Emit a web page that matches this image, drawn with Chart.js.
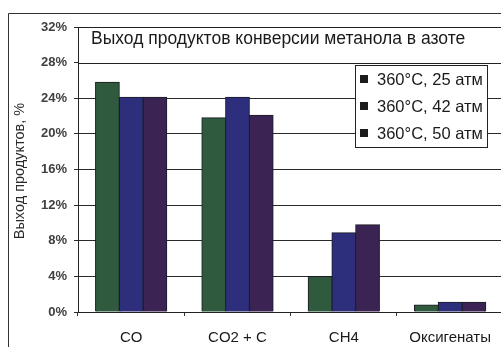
<!DOCTYPE html>
<html>
<head>
<meta charset="utf-8">
<script src="https://cdn.jsdelivr.net/npm/chart.js@4.4.1/dist/chart.umd.min.js"></script>
<style>
  html, body { margin: 0; padding: 0; background: #fff; overflow: hidden; }
  #wrap { position: relative; width: 501px; height: 347px; overflow: hidden; }
  canvas { display: block; }
</style>
</head>
<body>
<div id="wrap"><canvas id="c" width="504" height="347"></canvas></div>
<script>
// Product yield of methanol conversion in nitrogen, %
const categories = ['CO', 'CO2 + C', 'CH4', 'Оксигенаты'];
const seriesLabels = ['360°C, 25 атм', '360°C, 42 атм', '360°C, 50 атм'];
const yield25 = [25.8, 21.8, 4.0, 0.8];
const yield42 = [24.1, 24.1, 8.9, 1.1];
const yield50 = [24.1, 22.1, 9.8, 1.1];
const yTicks = [0, 4, 8, 12, 16, 20, 24, 28, 32];
const chartTitle = 'Выход продуктов конверсии метанола в азоте';
const yTitle = 'Выход продуктов, %';

const colors = ['#2f5a3e', '#2e2f7c', '#3b2454'];
const FONT = '"Liberation Sans", Arial, sans-serif';

// Outer frame, title box, legend box and y-axis caption
const decor = {
  id: 'decor',
  beforeDraw(chart) {
    const ctx = chart.ctx;
    ctx.save();
    ctx.fillStyle = '#fff';
    ctx.fillRect(0, 0, chart.width, chart.height);
    ctx.restore();
  },
  afterDraw(chart) {
    const ctx = chart.ctx;
    const a = chart.chartArea;
    const y = chart.scales.y;
    ctx.save();
    // frame
    ctx.strokeStyle = '#333';
    ctx.lineWidth = 1;
    ctx.beginPath();
    ctx.moveTo(8.5, chart.height);
    ctx.lineTo(8.5, 13.5);
    ctx.lineTo(chart.width, 13.5);
    ctx.stroke();

    // title box between the 32% and 28% lines
    const t0 = Math.round(y.getPixelForValue(32)) + 0.5;
    const t1 = Math.round(y.getPixelForValue(28)) + 0.5;
    ctx.fillStyle = '#fff';
    ctx.fillRect(a.left + 1, t0, chart.width - a.left - 1, t1 - t0);
    ctx.strokeStyle = '#222';
    ctx.beginPath();
    ctx.moveTo(chart.width, t0);
    ctx.lineTo(a.left + 0.5, t0);
    ctx.moveTo(a.left + 0.5, t1);
    ctx.lineTo(chart.width, t1);
    ctx.stroke();
    ctx.fillStyle = '#1a1a1a';
    ctx.font = '17.5px ' + FONT;
    ctx.textBaseline = 'alphabetic';
    ctx.textAlign = 'left';
    ctx.fillText(chartTitle, 91, 44);

    // legend
    const lx = 355.5, ly = 65.5, lw = 132, lh = 82;
    ctx.fillStyle = '#fff';
    ctx.fillRect(lx, ly, lw, lh);
    ctx.strokeStyle = '#222';
    ctx.strokeRect(lx, ly, lw, lh);
    ctx.font = '16.5px ' + FONT;
    chart.data.datasets.forEach((ds, i) => {
      const base = 85 + i * 27;
      ctx.fillStyle = '#1c1c1c';
      ctx.fillRect(360, base - 10, 8, 8);
      ctx.fillStyle = '#1a1a1a';
      ctx.fillText(ds.label, 377, base);
    });

    // y-axis caption
    ctx.translate(24, 171);
    ctx.rotate(-Math.PI / 2);
    ctx.textAlign = 'center';
    ctx.font = '14.5px ' + FONT;
    ctx.fillStyle = '#2a2a2a';
    ctx.fillText(yTitle, 0, 0);
    ctx.restore();
  }
};

new Chart(document.getElementById('c'), {
  type: 'bar',
  data: {
    labels: categories,
    datasets: [
      { label: seriesLabels[0], data: yield25, backgroundColor: colors[0] },
      { label: seriesLabels[1], data: yield42, backgroundColor: colors[1] },
      { label: seriesLabels[2], data: yield50, backgroundColor: colors[2] }
    ]
  },
  options: {
    responsive: false,
    animation: false,
    devicePixelRatio: 1,
    layout: { padding: { left: 0, right: 0, top: 27, bottom: 0 } },
    datasets: {
      bar: {
        categoryPercentage: 0.67,
        barPercentage: 1.0,
        borderWidth: 1,
        borderColor: '#1b1b24',
        inflateAmount: 0.5
      }
    },
    plugins: {
      legend: { display: false },
      title: { display: false },
      tooltip: { enabled: false }
    },
    scales: {
      x: {
        afterFit(s) { s.height = 35; },
        grid: {
          display: true,
          offset: true,
          drawOnChartArea: false,
          drawTicks: true,
          tickLength: 4,
          color: '#333'
        },
        border: { display: true, color: '#222', width: 1 },
        ticks: {
          padding: 13,
          color: '#1a1a1a',
          font: { family: FONT, size: 15 }
        }
      },
      y: {
        min: 0,
        max: 32,
        afterFit(s) { s.width = 78; },
        afterBuildTicks(s) { s.ticks = yTicks.map(v => ({ value: v })); },
        grid: {
          color: '#2a2a2a',
          lineWidth: 1,
          drawTicks: true,
          tickLength: 4
        },
        border: { display: true, color: '#222', width: 1 },
        ticks: {
          padding: 7,
          color: '#404040',
          font: { family: FONT, size: 13, weight: 'bold' },
          callback: v => v + '%'
        }
      }
    }
  },
  plugins: [decor]
});
</script>
</body>
</html>
